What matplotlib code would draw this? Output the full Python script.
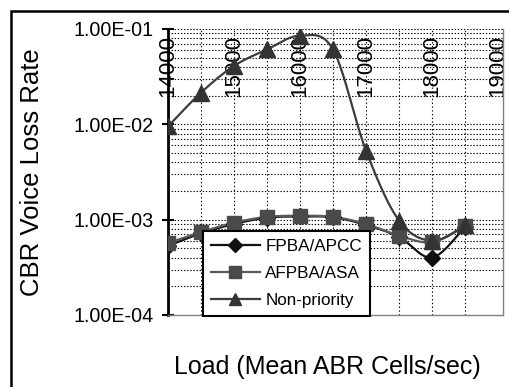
import matplotlib
matplotlib.use("Agg")
import matplotlib.pyplot as plt
import matplotlib.transforms as mtransforms
from matplotlib.patches import Rectangle
import numpy as np

plt.rcParams['font.family'] = ['Liberation Sans', 'DejaVu Sans']

# Data
LOADS = [14000, 14500, 15000, 15500, 16000, 16500, 17000, 17500, 18000, 18500]
FPBA_APCC = [0.00053, 0.00072, 0.00090, 0.00105, 0.00108, 0.00106, 0.00088, 0.00066, 0.00040, 0.00084]
AFPBA_ASA = [0.00057, 0.00074, 0.00093, 0.00107, 0.00110, 0.00107, 0.00090, 0.00068, 0.00058, 0.00085]
NON_PRIORITY = [0.0095, 0.0215, 0.041, 0.061, 0.085, 0.061, 0.0053, 0.00098, 0.00060, 0.00087]

XTICKS = [14000, 15000, 16000, 17000, 18000, 19000]
YTICKS = [1e-4, 1e-3, 1e-2, 1e-1]
YTICK_LABELS = ["1.00E-04", "1.00E-03", "1.00E-02", "1.00E-01"]


# Excel-like smoothed line: Catmull-Rom through the points, in log-y space
def smooth(xs, ys, n=24):
    x = np.asarray(xs, float)
    ly = np.log10(np.asarray(ys, float))
    px, py = [], []
    for i in range(len(x) - 1):
        x0, x1 = x[i], x[i + 1]
        y0, y1 = ly[i], ly[i + 1]
        xm = x[i - 1] if i > 0 else x0
        ym = ly[i - 1] if i > 0 else y0
        xp = x[i + 2] if i + 2 < len(x) else x1
        yp = ly[i + 2] if i + 2 < len(x) else y1
        c1x, c1y = x0 + (x1 - xm) / 6, y0 + (y1 - ym) / 6
        c2x, c2y = x1 - (xp - x0) / 6, y1 - (yp - y0) / 6
        t = np.linspace(0, 1, n)
        bx = (1-t)**3*x0 + 3*(1-t)**2*t*c1x + 3*(1-t)*t**2*c2x + t**3*x1
        by = (1-t)**3*y0 + 3*(1-t)**2*t*c1y + 3*(1-t)*t**2*c2y + t**3*y1
        px.extend(bx)
        py.extend(by)
    return np.array(px), 10 ** np.array(py)


W, H = 510, 387
fig = plt.figure(figsize=(W / 100, H / 100), dpi=100)
ax = fig.add_axes([168 / W, 1 - 315 / H, (503 - 168) / W, (315 - 29) / H])

ax.set_yscale("log")
ax.set_ylim(1e-4, 1e-1)
ax.set_xlim(14000, 19076)

# grid
for xv in np.arange(14500, 19000, 500):
    ax.axvline(xv, color="black", lw=0.8, ls=(0, (1.2, 2.2)), zorder=1)
for dec in [1e-4, 1e-3, 1e-2]:
    for k in range(1, 10):
        yv = dec * k
        if yv <= 1e-4:
            continue
        ax.axhline(yv, color="black", lw=0.8, ls=(0, (1.2, 1.6)), zorder=1)
ax.axhline(1e-1, color="black", lw=0.8, ls=(0, (1.2, 1.6)), zorder=1)

series = [
    ("FPBA/APCC", FPBA_APCC, "#111111", "#111111", "D", 8),
    ("AFPBA/ASA", AFPBA_ASA, "#5a5a5a", "#4a4a4a", "s", 10),
    ("Non-priority", NON_PRIORITY, "#3c3c3c", "#333333", "^", 11),
]
for label, vals, lc, mc, mk, ms in series:
    sx, sy = smooth(LOADS, vals)
    ax.plot(sx, sy, color=lc, lw=1.6, zorder=3)
    ax.plot(LOADS, vals, ls="none", marker=mk, ms=ms, color=mc, zorder=4)
    ax.plot([], [], color=lc, lw=1.6, marker=mk, ms=ms * 0.85, mfc=mc, mec=mc, label=label)

# spines
ax.spines["top"].set_visible(False)
ax.spines["left"].set_linewidth(2)
ax.spines["left"].set_color("black")
ax.spines["bottom"].set_color("#808080")
ax.spines["bottom"].set_linewidth(1)
ax.spines["right"].set_color("#808080")
ax.spines["right"].set_linewidth(1)

ax.set_yticks(YTICKS)
ax.set_yticklabels(YTICK_LABELS)
ax.yaxis.set_minor_locator(matplotlib.ticker.NullLocator())
ax.tick_params(axis="y", direction="inout", length=8, width=1.5, labelsize=14.2, pad=6)
ax.set_xticks([])
ax.tick_params(axis="x", which="both", length=0)

# category labels sitting at the top inside the plot
trans = mtransforms.blended_transform_factory(ax.transData, ax.transAxes)
for xv in XTICKS:
    ax.text(xv, 0.978, str(xv), rotation=90, ha="center", va="top",
            fontsize=16, transform=trans, zorder=2)

ax.set_ylabel("CBR Voice Loss Rate", fontsize=18.5)
ax.yaxis.set_label_coords(-(168 - 44) / (503 - 168), 0.5)
fig.text(327 / W, 1 - 367 / H, "Load (Mean ABR Cells/sec)", fontsize=18,
         ha="center", va="center")

leg = ax.legend(loc="upper left", bbox_to_anchor=(203 / W, 1 - 231 / H),
                bbox_transform=fig.transFigure, fontsize=12.3, frameon=True,
                fancybox=False, framealpha=1, edgecolor="black",
                handlelength=2.9, handletextpad=0.3, borderpad=0.45,
                labelspacing=0.72, borderaxespad=0)
leg.get_frame().set_linewidth(1.5)
leg.set_zorder(5)

# outer chart-area border
fig.patches.append(Rectangle((11 / W, -0.1), 1.2, 1 - 11 / H + 0.1,
                             transform=fig.transFigure, fill=False,
                             edgecolor="black", lw=1.8))

fig.savefig("out.png", dpi=100)
